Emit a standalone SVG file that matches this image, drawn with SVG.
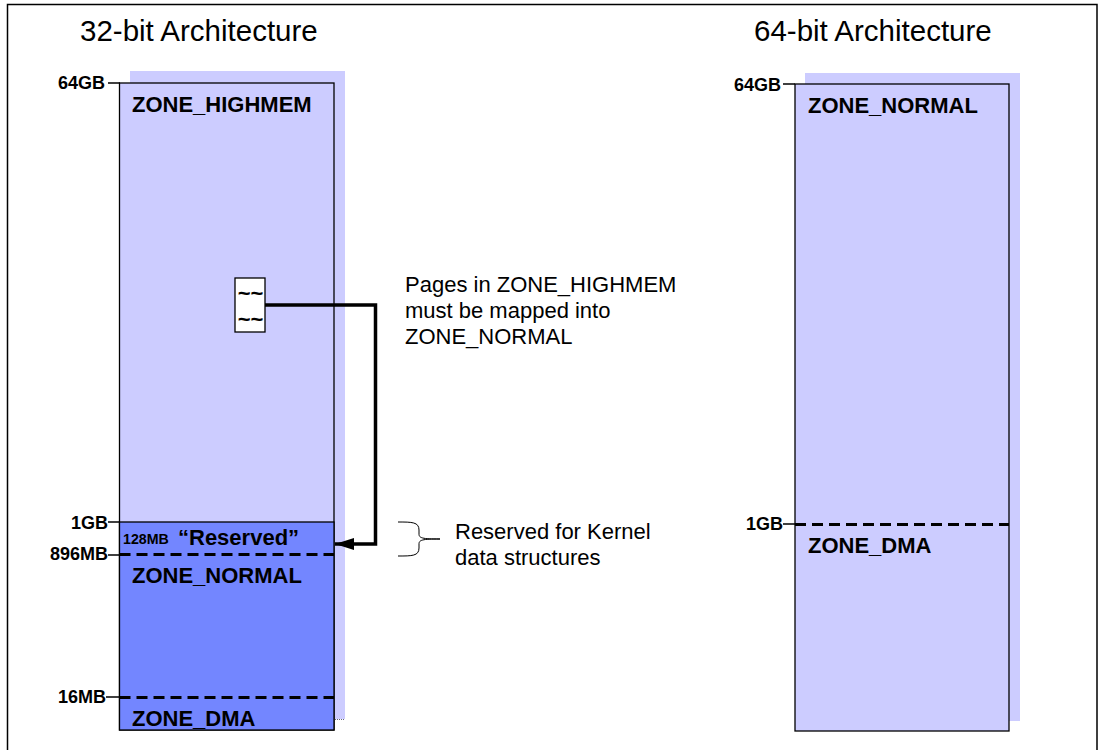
<svg xmlns="http://www.w3.org/2000/svg" width="1098" height="750" viewBox="0 0 1098 750">
<style>
text{font-family:"Liberation Sans",Arial,sans-serif;fill:#000}
.h{font-size:29.500px}
.z{font-size:22px;font-weight:bold}
.l{font-size:18px;font-weight:bold}
.n{font-size:22px}
.box{stroke:#000;stroke-width:1.300}
.d{stroke:#000;stroke-width:3;stroke-dasharray:11 6;fill:none}
.t{stroke:#000;stroke-width:1.500;fill:none}
.s{fill:#ccf}
</style>
<defs><marker id="a" markerUnits="userSpaceOnUse" markerWidth="20" markerHeight="14" refX="19" refY="7" orient="auto"><path d="M19 7L0 1V13Z" fill="#000"/></marker></defs>
<rect width="1098" height="750" fill="#fff"/>
<path d="M7.500 750V4.500H1097V750" fill="none" stroke="#000" stroke-width="1.500"/>
<text class="h" x="80" y="41">32-bit Architecture</text>
<text class="h" x="754" y="41">64-bit Architecture</text>
<g id="arch32">
<rect class="s" x="130" y="71" width="215" height="648"/>
<rect class="box" x="119.500" y="83" width="214.500" height="647" fill="#ccf"/>
<rect class="box" x="119.500" y="522" width="214.500" height="208" fill="#7386ff"/>
<path d="M335 719.500H345" stroke="#667" stroke-width="1" stroke-dasharray="1 1"/>
<text class="z" x="132" y="112">ZONE_HIGHMEM</text>
<text x="123" y="544" font-size="14.200" font-weight="bold">128MB</text>
<text x="178" y="545" font-size="22" font-weight="bold">“Reserved”</text>
<text class="z" x="132" y="583">ZONE_NORMAL</text>
<text class="z" x="132" y="726">ZONE_DMA</text>
<path class="d" d="M119.500 554.500H334M119.500 697.500H334"/>
</g>
<g id="arch64">
<rect class="s" x="805" y="73" width="215" height="648"/>
<rect class="box" x="795" y="84" width="214" height="647" fill="#ccf"/>
<text class="z" x="808" y="113">ZONE_NORMAL</text>
<text class="z" x="808" y="553">ZONE_DMA</text>
<path class="d" d="M795 524.500H1009"/>
</g>
<g id="page">
<rect x="235" y="278" width="30" height="54" fill="#fff" stroke="#000" stroke-width="1.300"/>
<text x="250.500" y="301" font-size="22" font-weight="bold" text-anchor="middle">~~</text>
<text x="250.500" y="327" font-size="22" font-weight="bold" text-anchor="middle">~~</text>
</g>
<g id="labels">
<text class="l" x="58" y="89">64GB</text>
<text class="l" x="71" y="529">1GB</text>
<text class="l" x="50" y="560">896MB</text>
<text class="l" x="58" y="703">16MB</text>
<text class="l" x="734" y="91">64GB</text>
<text class="l" x="746" y="530">1GB</text>
<text class="n" x="405" y="292">Pages in ZONE_HIGHMEM</text>
<text class="n" x="405" y="318">must be mapped into</text>
<text class="n" x="405" y="344">ZONE_NORMAL</text>
<text class="n" x="455" y="539">Reserved for Kernel</text>
<text class="n" x="455" y="565">data structures</text>
</g>
<g id="connectors">
<path d="M265 305H375.500V544H335" fill="none" stroke="#000" stroke-width="3.500" marker-end="url(#a)"/>
<path class="t" d="M108 83H120M108 522H120M108 555H120M106 697H120M783 84H795M783 524H795"/>
<path d="M398 522C412 522 419 522 419 530V534C419 538 422 539 440 539M398 556C412 556 419 556 419 548V544C419 540 422 539 440 539" fill="none" stroke="#000" stroke-width="1"/>
</g>
</svg>
